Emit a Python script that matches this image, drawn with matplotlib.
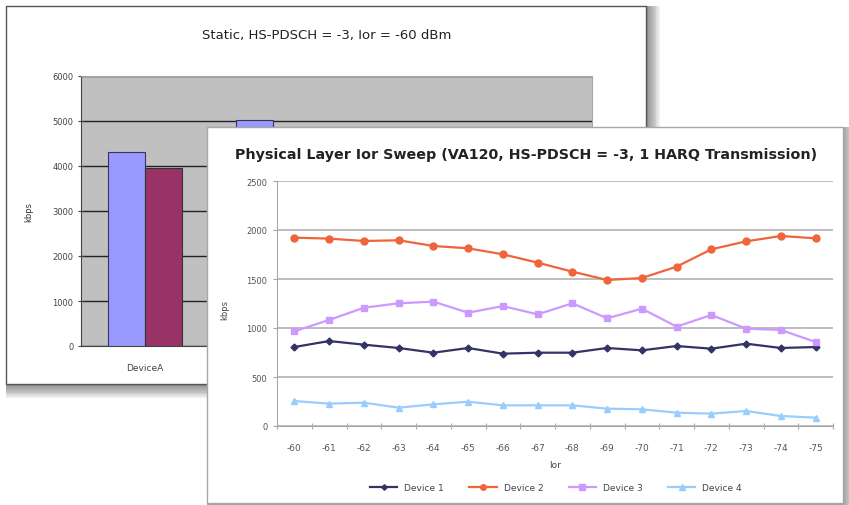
import numpy as np
import matplotlib
matplotlib.use("Agg")
import matplotlib.pyplot as plt
from matplotlib.patches import Rectangle

W, H = 849, 506

# ---- back chart (static bars) ----
static_title = "Static, HS-PDSCH = -3, Ior = -60 dBm"
static_devices = ["DeviceA", ""]
static_blue = [4310, 5030]
static_maroon = [3955, np.nan]          # second group hidden behind the front chart
static_yticks = [0, 1000, 2000, 3000, 4000, 5000, 6000]

# ---- front chart (Ior sweep) ----
sweep_title = "Physical Layer Ior Sweep (VA120, HS-PDSCH = -3, 1 HARQ Transmission)"
ior_labels = ["-60", "-61", "-62", "-63", "-64", "-65", "-66", "-67",
              "-68", "-69", "-70", "-71", "-72", "-73", "-74", "-75"]
device1 = [806, 867, 830, 796, 748, 796, 738, 748, 748, 796, 772, 816, 789, 840, 796, 806]
device2 = [1922, 1912, 1888, 1895, 1837, 1813, 1752, 1667, 1575, 1490, 1510, 1626, 1803, 1884, 1939, 1915]
device3 = [966, 1082, 1207, 1252, 1269, 1156, 1224, 1139, 1252, 1099, 1197, 1014, 1133, 993, 980, 857]
device4 = [255, 228, 238, 187, 221, 248, 211, 211, 211, 177, 170, 136, 126, 153, 102, 85]
series_names = ["Device 1", "Device 2", "Device 3", "Device 4"]
sweep_yticks = [0, 500, 1000, 1500, 2000, 2500]


def fr(x0, y0, x1, y1):
    """pixel box (top-left origin) -> figure rect"""
    return [x0 / W, 1 - y1 / H, (x1 - x0) / W, (y1 - y0) / H]


def panel(fig, x0, y0, x1, y1, z, edge, step=1.6, alpha=0.05):
    # soft drop shadow: stacked translucent boxes
    for k in range(1, 9):
        fig.add_artist(Rectangle((x0 / W, 1 - (y1 + k * step) / H),
                                 (x1 - x0 + k * step) / W, (y1 - y0 + k * step) / H,
                                 transform=fig.transFigure, facecolor="black",
                                 edgecolor="none", alpha=alpha, zorder=z - 0.5))
    fig.add_artist(Rectangle((x0 / W, 1 - y1 / H), (x1 - x0) / W, (y1 - y0) / H,
                             transform=fig.transFigure, facecolor="white",
                             edgecolor=edge, lw=1.0, zorder=z))


fig = plt.figure(figsize=(W / 100, H / 100), dpi=100)
fig.patch.set_facecolor("white")

# ================= back panel =================
panel(fig, 6, 7, 646, 385, 1, "#555555", step=1.7, alpha=0.065)
fig.text(327 / W, 1 - 35 / H, static_title, ha="center", va="center",
         fontsize=9.5, color="#222222", zorder=1.2)

ax1 = fig.add_axes(fr(81, 77, 592, 347), zorder=2)
ax1.set_facecolor("#C0C0C0")
x = np.arange(len(static_devices))
bw = 0.29
ax1.bar(x - bw / 2, static_blue, bw, color="#9999FF", edgecolor="#333366", lw=0.8, zorder=3)
ax1.bar(x + bw / 2, static_maroon, bw, color="#993366", edgecolor="#333333", lw=0.8, zorder=3)
ax1.set_xlim(-0.5, 3.5)
ax1.set_ylim(0, 6000)
ax1.set_yticks(static_yticks)
ax1.set_yticklabels([str(v) for v in static_yticks])
ax1.set_xticks(x)
ax1.set_xticklabels(static_devices)
ax1.yaxis.grid(True, color="#222222", lw=1.0)
ax1.set_axisbelow(True)
ax1.tick_params(axis="y", direction="inout", length=5, width=0.8, pad=3,
                labelsize=6, labelcolor="#444444", color="#444444")
ax1.tick_params(axis="x", length=0, pad=12, labelsize=6.5, labelcolor="#444444")
for s in ["top", "right"]:
    ax1.spines[s].set_color("#A8A8A8")
ax1.spines["left"].set_color("#444444")
ax1.spines["bottom"].set_color("#444444")
fig.text(29 / W, 1 - 212 / H, "kbps", rotation=90, ha="center", va="center",
         fontsize=6, color="#333333", zorder=2.5)

# ================= front panel =================
panel(fig, 207, 128, 843, 504, 4, "#A8A8A8")
fig.text(526 / W, 1 - 155 / H, sweep_title, ha="center", va="center",
         fontsize=10.3, weight="bold", color="#222222", zorder=6)

ax2 = fig.add_axes(fr(277, 182, 833, 427), zorder=5)
ax2.set_facecolor("white")
xi = np.arange(len(ior_labels))
styles = [
    (device1, "#333366", "D", 3.5),
    (device2, "#F0643A", "o", 5),
    (device3, "#CC99FF", "s", 5),
    (device4, "#99CCFF", "^", 5),
]
for (vals, col, mk, ms), name in zip(styles, series_names):
    ax2.plot(xi, vals, color=col, lw=1.6, marker=mk, ms=ms, mfc=col, mec=col, label=name)
ax2.set_xlim(-0.5, len(ior_labels) - 0.5)
ax2.set_ylim(0, 2500)
ax2.set_yticks(sweep_yticks)
ax2.set_yticklabels([str(v) for v in sweep_yticks])
ax2.set_xticks(xi)
ax2.set_xticklabels(ior_labels)
ax2.set_xticks(np.arange(len(ior_labels) + 1) - 0.5, minor=True)
ax2.yaxis.grid(True, color="#B8B8B8", lw=1.3)
ax2.set_axisbelow(True)
ax2.tick_params(axis="y", direction="out", length=3, width=0.8, pad=4,
                labelsize=6, labelcolor="#555555", color="#A8A8A8")
ax2.tick_params(axis="x", which="major", length=0, pad=12, labelsize=6.5, labelcolor="#555555")
ax2.tick_params(axis="x", which="minor", direction="inout", length=4, width=0.8, color="#A8A8A8")
for s in ["top", "right"]:
    ax2.spines[s].set_visible(False)
ax2.spines["left"].set_color("#A8A8A8")
ax2.spines["bottom"].set_color("#A8A8A8")
ax2.set_xlabel("Ior", fontsize=6.5, color="#444444", labelpad=6)
fig.text(225 / W, 1 - 310 / H, "kbps", rotation=90, ha="center", va="center",
         fontsize=6, color="#444444", zorder=6)
ax2.legend(loc="center", bbox_to_anchor=(556 / W, 1 - 489 / H), bbox_transform=fig.transFigure,
           ncol=4, frameon=False, fontsize=6.5, handlelength=3, columnspacing=2.8,
           markerscale=0.8, labelcolor="#444444")

fig.savefig("out.png", dpi=100)
